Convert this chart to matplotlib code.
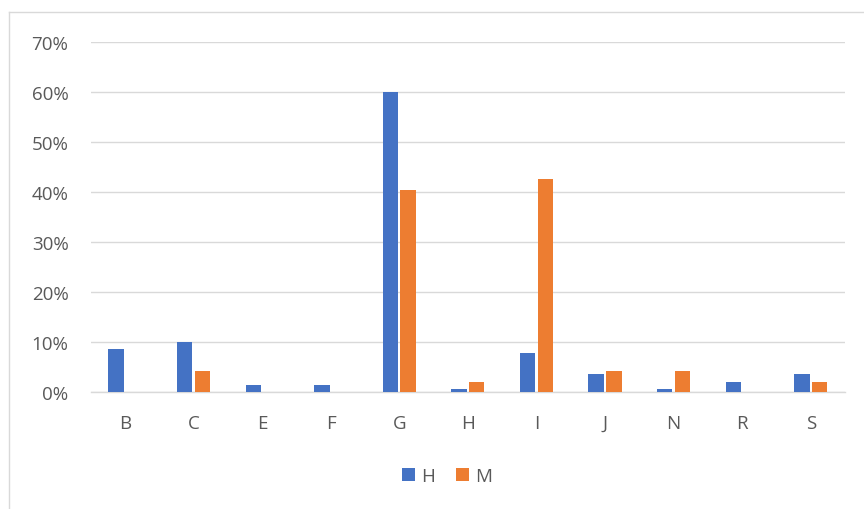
import matplotlib
matplotlib.use("Agg")
import matplotlib.pyplot as plt
from matplotlib.lines import Line2D
from matplotlib.ticker import FuncFormatter
import numpy as np

categories = ["B", "C", "E", "F", "G", "H", "I", "J", "N", "R", "S"]
h_values = [8.6, 10.0, 1.4, 1.4, 60.0, 0.7, 7.9, 3.6, 0.7, 2.1, 3.6]
m_values = [0.0, 4.3, 0.0, 0.0, 40.4, 2.1, 42.6, 4.3, 4.3, 0.0, 2.1]
series_names = ["H", "M"]
yticks = [0, 10, 20, 30, 40, 50, 60, 70]

plt.rcParams['font.family'] = ['Open Sans', 'DejaVu Sans']
text_color = "#595959"
grid_color = "#d9d9d9"

fig = plt.figure(figsize=(8.64, 5.10), dpi=100)
ax = fig.add_axes([90.7/864, 1-393/510, (845-90.7)/864, (393-43)/510])

x = np.arange(len(categories))
w = 0.225
off = 0.13
ax.bar(x - off, h_values, width=w, color="#4472c4", label=series_names[0], zorder=3)
ax.bar(x + off, m_values, width=w, color="#ed7d31", label=series_names[1], zorder=3)

ax.set_xlim(-0.5, len(categories) - 0.5)
ax.set_ylim(0, 70)
ax.set_yticks(yticks)
ax.yaxis.set_major_formatter(FuncFormatter(lambda v, p: f"{int(v)}%"))
ax.set_xticks(x)
ax.set_xticklabels(categories)
ax.grid(axis="y", color=grid_color, linewidth=1, zorder=0)
for s in ["top", "right", "left"]:
    ax.spines[s].set_visible(False)
ax.spines["bottom"].set_color(grid_color)
ax.spines["bottom"].set_linewidth(1)
ax.tick_params(axis="both", length=0, labelsize=13.5, labelcolor=text_color)
ax.tick_params(axis="y", pad=16)
ax.tick_params(axis="x", pad=16)

leg = fig.legend(loc="center", bbox_to_anchor=(447/864, 1-477/510), ncol=2,
                 frameon=False, fontsize=13.5, handlelength=0.7, handleheight=0.7,
                 handletextpad=0.35, columnspacing=1.1)
for t in leg.get_texts():
    t.set_color(text_color)

# outer chart frame
fig.add_artist(Line2D([9/864, 1], [1-13/510, 1-13/510], color=grid_color, linewidth=1, transform=fig.transFigure))
fig.add_artist(Line2D([9/864, 9/864], [0, 1-13/510], color=grid_color, linewidth=1, transform=fig.transFigure))

fig.savefig("out.png", dpi=100)
